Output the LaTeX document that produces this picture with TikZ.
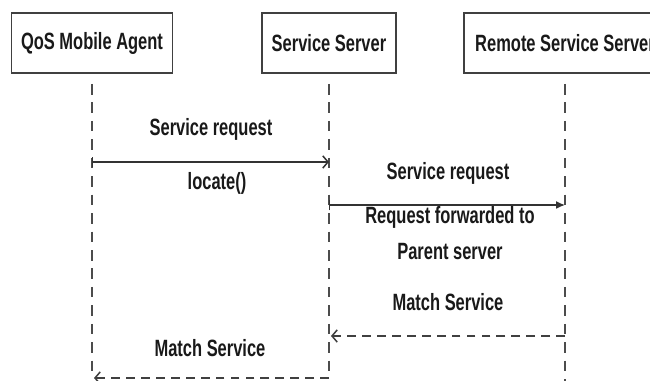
\documentclass[tikz,border=0pt]{standalone}
\usepackage{fontspec}
\setmainfont{Liberation Sans}[FakeStretch=0.7]
\usetikzlibrary{arrows.meta}

\begin{document}
\begin{tikzpicture}[x=0.02cm,y=-0.02cm,
    font=\fontsize{13.4}{16}\selectfont\bfseries,
    actor/.style={draw=black!75,line width=1.1pt,minimum height=1.2cm,inner sep=0pt,text=black!90},
    lifeline/.style={draw=black!70,line width=0.9pt,dash pattern=on 6pt off 4.5pt},
    msg/.style={draw=black!80,line width=0.85pt},
    reply/.style={draw=black!75,line width=0.85pt,dash pattern=on 5pt off 3.5pt,-{Straight Barb[length=3pt,width=7pt]}},
    lbl/.style={text=black!90,inner sep=0pt}]
    \useasboundingbox (0,0) rectangle (650,381);
    \clip (0,0) rectangle (650,381);

    % actors
    \node[actor,minimum width=3.22cm] (agent) at (92,43) {QoS Mobile Agent};
    \node[actor,minimum width=2.68cm] (server) at (329,43) {Service Server};
    \node[actor,minimum width=4.04cm] (remote) at (565,43) {Remote Service Server};

    % lifelines
    \coordinate (agenttop) at (92,84);
    \coordinate (servertop) at (329,84);
    \coordinate (remotetop) at (565,84);
    \coordinate (agentend) at (92,378);
    \coordinate (serverend) at (329,378);
    \coordinate (remoteend) at (565,390);
    \draw[lifeline] (agenttop) -- (agentend);
    \draw[lifeline] (servertop) -- (serverend);
    \draw[lifeline] (remotetop) -- (remoteend);

    % messages
    \coordinate (req1a) at (92,162);
    \coordinate (req1b) at (329,162);
    \draw[msg,{Bar[width=6pt]}-{Straight Barb[length=3pt,width=7pt]}] (req1a) -- (req1b);
    \node[lbl] (reqtxt) at (211,129) {Service request};
    \node[lbl] (locate) at (217,183) {locate()};

    \coordinate (req2a) at (329,205);
    \coordinate (req2b) at (565,205);
    \draw[msg,{Bar[width=6pt]}-{Latex[length=5pt,width=4.5pt]}] (req2a) -- (req2b);
    \node[lbl] (fwdreq) at (448,173) {Service request};
    \node[lbl] (fwd) at (450,217) {Request forwarded to};
    \node[lbl] (parent) at (450,252) {Parent server};

    \coordinate (match1a) at (565,336);
    \coordinate (match1b) at (331,336);
    \draw[reply] (match1a) -- (match1b);
    \node[lbl] (matchtxt) at (448,302) {Match Service};

    \draw[reply] (serverend) -- (94,378);
    \node[lbl] (backtxt) at (210,348) {Match Service};
\end{tikzpicture}
\end{document}
